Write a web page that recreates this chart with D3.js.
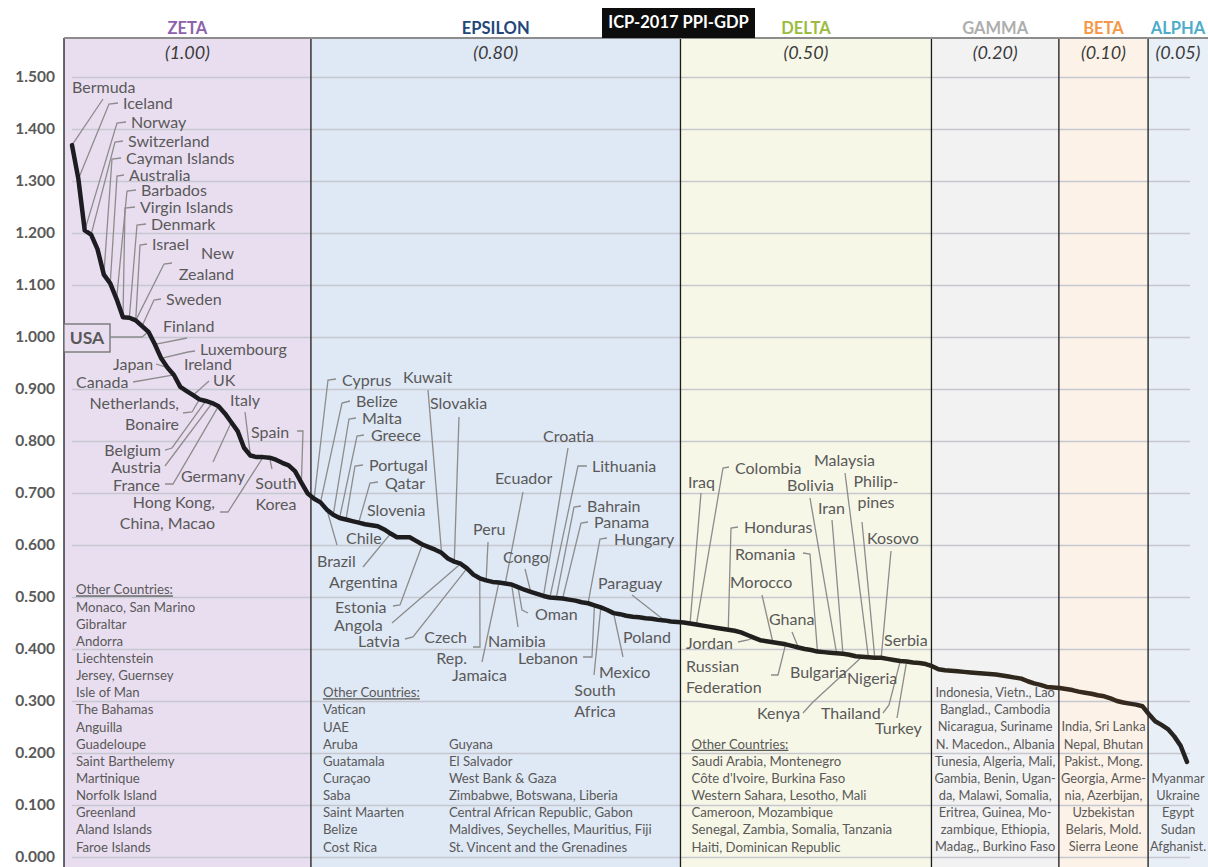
<!DOCTYPE html>
<html>
<head>
<meta charset="utf-8">
<script src="https://cdnjs.cloudflare.com/ajax/libs/d3/7.8.5/d3.min.js"></script>
<style>
  html, body { margin: 0; padding: 0; background: #fff; }
  svg { display: block; font-family: Lato, "Open Sans", sans-serif; }
</style>
</head>
<body>
<svg id="chart" width="1208" height="867"></svg>
<script>
// PPI/GDP ratio by country, ranked high to low
const ppiValues = [
  1.369, 1.304, 1.205, 1.197, 1.169, 1.120, 1.103, 1.073, 1.038, 1.037,
  1.032, 1.021, 1.010, 0.986, 0.959, 0.941, 0.927, 0.904, 0.896, 0.888,
  0.880, 0.877, 0.873, 0.867, 0.853, 0.836, 0.819, 0.787, 0.772, 0.769,
  0.769, 0.768, 0.764, 0.758, 0.753, 0.742, 0.720, 0.699, 0.689, 0.682,
  0.668, 0.658, 0.652, 0.649, 0.646, 0.643, 0.640, 0.638, 0.636, 0.630,
  0.622, 0.615, 0.615, 0.615, 0.608, 0.601, 0.596, 0.591, 0.585, 0.574,
  0.568, 0.564, 0.555, 0.543, 0.536, 0.532, 0.529, 0.528, 0.526, 0.524,
  0.519, 0.514, 0.510, 0.506, 0.502, 0.499, 0.498, 0.497, 0.495, 0.493,
  0.490, 0.488, 0.484, 0.480, 0.475, 0.469, 0.467, 0.464, 0.462, 0.461,
  0.459, 0.458, 0.456, 0.455, 0.453, 0.452, 0.451, 0.449, 0.447, 0.445,
  0.443, 0.441, 0.439, 0.437, 0.435, 0.432, 0.427, 0.422, 0.417, 0.415,
  0.413, 0.411, 0.409, 0.406, 0.403, 0.400, 0.398, 0.395, 0.394, 0.393,
  0.392, 0.391, 0.389, 0.386, 0.385, 0.384, 0.383, 0.383, 0.381, 0.379,
  0.377, 0.376, 0.374, 0.373, 0.371, 0.367, 0.361, 0.359, 0.358, 0.357,
  0.356, 0.355, 0.354, 0.353, 0.352, 0.351, 0.349, 0.347, 0.345, 0.343,
  0.338, 0.334, 0.331, 0.327, 0.326, 0.325, 0.323, 0.321, 0.318, 0.316,
  0.314, 0.311, 0.309, 0.305, 0.300, 0.297, 0.295, 0.293, 0.290, 0.275,
  0.261, 0.254, 0.246, 0.232, 0.214, 0.183
];

const bandNames = ["ZETA", "EPSILON", "DELTA", "GAMMA", "BETA", "ALPHA"];
const bandWeights = ["(1.00)", "(0.80)", "(0.50)", "(0.20)", "(0.10)", "(0.05)"];
const bandLastRank = [37, 95, 134, 154, 168, 175];

const yTicks = [0, 0.1, 0.2, 0.3, 0.4, 0.5, 0.6, 0.7, 0.8, 0.9, 1.0, 1.1, 1.2, 1.3, 1.4, 1.5];

// "Other Countries" lists, bottom aligned in each band
const zetaOthers = ["Monaco, San Marino", "Gibraltar", "Andorra", "Liechtenstein", "Jersey, Guernsey",
  "Isle of Man", "The Bahamas", "Anguilla", "Guadeloupe", "Saint Barthelemy", "Martinique",
  "Norfolk Island", "Greenland", "Aland Islands", "Faroe Islands"];
const epsilonOthers = ["Vatican", "UAE", "Aruba", "Guatamala", "Curaçao", "Saba", "Saint Maarten", "Belize", "Cost Rica"];
const epsilonOthers2 = ["Guyana", "El Salvador", "West Bank & Gaza", "Zimbabwe, Botswana, Liberia",
  "Central African Republic, Gabon", "Maldives, Seychelles, Mauritius, Fiji", "St. Vincent and the Grenadines"];
const deltaOthers = ["Saudi Arabia, Montenegro", "Côte d'Ivoire, Burkina Faso", "Western Sahara, Lesotho, Mali",
  "Cameroon, Mozambique", "Senegal, Zambia, Somalia, Tanzania", "Haiti, Dominican Republic"];
const gammaOthers = ["Indonesia, Vietn., Lao", "Banglad., Cambodia", "Nicaragua, Suriname", "N. Macedon., Albania",
  "Tunesia, Algeria, Mali,", "Gambia, Benin, Ugan-", "da, Malawi, Somalia,", "Eritrea, Guinea, Mo-",
  "zambique, Ethiopia,", "Madag., Burkino Faso"];
const betaOthers = ["India, Sri Lanka", "Nepal, Bhutan", "Pakist., Mong.", "Georgia, Arme-", "nia, Azerbijan,",
  "Uzbekistan", "Belaris, Mold.", "Sierra Leone"];
const alphaOthers = ["Myanmar", "Ukraine", "Egypt", "Sudan", "Afghanist."];

// named countries on the curve: rank + label placement (hook = leader points before the curve)
const callouts = [
  {lines: ["Bermuda"], rank: 0, x: 72, y: 87, hook: [[103, 99]]},
  {lines: ["Iceland"], rank: 1, x: 123, y: 103, hook: [[118, 103], [109, 104]]},
  {lines: ["Norway"], rank: 2, x: 131, y: 122, hook: [[126, 122], [117, 123]]},
  {lines: ["Switzerland"], rank: 3, x: 128, y: 141, hook: [[123, 141], [115, 142]]},
  {lines: ["Cayman Islands"], rank: 5, x: 126, y: 158, hook: [[121, 158], [112, 159]]},
  {lines: ["Australia"], rank: 6, x: 129, y: 175, hook: [[124, 175], [117, 176]]},
  {lines: ["Barbados"], rank: 7, x: 141, y: 190, hook: [[136, 190], [127, 191]]},
  {lines: ["Virgin Islands"], rank: 8, x: 140, y: 207, hook: [[135, 207], [125, 208]]},
  {lines: ["Denmark"], rank: 9, x: 151, y: 224, hook: [[146, 224], [137, 225]]},
  {lines: ["Israel"], rank: 10, x: 152, y: 244, hook: [[147, 244], [140, 245]]},
  {lines: ["New", "Zealand"], rank: 10, x: 234, y: 253, anchor: "end", hook: [[172, 263], [164, 264]]},
  {lines: ["Sweden"], rank: 11, x: 166, y: 299, hook: [[161, 299], [154, 300]]},
  {lines: ["Finland"], rank: 13, x: 163, y: 326, hook: [[187, 338]]},
  {lines: ["Luxembourg"], rank: 14, x: 200, y: 349, hook: [[195, 351], [188, 352]]},
  {lines: ["Japan"], rank: 15, x: 113, y: 364, hook: [[156, 364]]},
  {lines: ["Ireland"], x: 184, y: 364},
  {lines: ["Canada"], rank: 16, x: 76, y: 382, hook: [[133, 382]]},
  {lines: ["UK"], rank: 19, x: 213, y: 380, hook: [[209, 381]]},
  {lines: ["Netherlands,", "Bonaire"], rank: 20, x: 179, y: 403, anchor: "end", hook: [[183, 413], [192, 412]]},
  {lines: ["Belgium"], rank: 21, x: 161, y: 450, anchor: "end", hook: [[165, 450], [172, 448]]},
  {lines: ["Austria"], rank: 22, x: 161, y: 467, anchor: "end", hook: [[165, 466]]},
  {lines: ["France"], rank: 23, x: 160, y: 485, anchor: "end", hook: [[165, 484], [173, 484]]},
  {lines: ["Germany"], rank: 25, x: 181, y: 476, hook: [[213, 462]]},
  {lines: ["Italy"], rank: 28, x: 230, y: 400, hook: [[245, 412]]},
  {lines: ["Spain"], rank: 36, x: 251, y: 432, hook: [[297, 431], [303, 431]]},
  {lines: ["South", "Korea"], rank: 31, x: 276, y: 483, anchor: "middle", hook: [[272, 469]]},
  {lines: ["Hong Kong,", "China, Macao"], rank: 30, x: 215, y: 502, anchor: "end", hook: [[220, 512], [228, 512]]},

  {lines: ["Cyprus"], rank: 38, x: 342, y: 380, hook: [[336, 379], [328, 380]]},
  {lines: ["Belize"], rank: 39, x: 356, y: 401, hook: [[350, 401], [342, 403]]},
  {lines: ["Malta"], rank: 41, x: 362, y: 418, hook: [[356, 418], [349, 419]]},
  {lines: ["Greece"], rank: 42, x: 371, y: 435, hook: [[364, 435], [357, 436]]},
  {lines: ["Portugal"], rank: 43, x: 369, y: 465, hook: [[363, 465], [355, 466]]},
  {lines: ["Qatar"], rank: 45, x: 385, y: 483, hook: [[378, 482], [370, 483]]},
  {lines: ["Slovenia"], x: 367, y: 510},
  {lines: ["Chile"], x: 346, y: 538},
  {lines: ["Brazil"], rank: 40, x: 317, y: 561, hook: [[337, 545]]},
  {lines: ["Argentina"], rank: 50, x: 329, y: 582, hook: [[363, 567]]},
  {lines: ["Kuwait"], rank: 58, x: 403, y: 377, hook: [[428, 390]]},
  {lines: ["Slovakia"], rank: 60, x: 430, y: 403, hook: [[459, 417]]},
  {lines: ["Estonia"], rank: 55, x: 335, y: 607, hook: [[393, 606], [400, 605]]},
  {lines: ["Angola"], rank: 61, x: 334, y: 625, hook: [[392, 623]]},
  {lines: ["Latvia"], rank: 62, x: 358, y: 641, hook: [[405, 639], [413, 637]]},
  {lines: ["Czech", "Rep."], rank: 64, x: 467, y: 637, anchor: "end", hook: [[473, 647], [480, 647]]},
  {lines: ["Peru"], rank: 65, x: 473, y: 529, hook: [[488, 542]]},
  {lines: ["Ecuador"], rank: 68, x: 495, y: 478, hook: [[523, 492]]},
  {lines: ["Jamaica"], rank: 67, x: 452, y: 675, hook: [[482, 662]]},
  {lines: ["Congo"], rank: 72, x: 503, y: 557, hook: [[525, 569]]},
  {lines: ["Namibia"], rank: 69, x: 488, y: 641, hook: [[518, 627]]},
  {lines: ["Oman"], rank: 70, x: 535, y: 614, hook: [[528, 613], [522, 610]]},
  {lines: ["Croatia"], rank: 74, x: 543, y: 436, hook: [[568, 448]]},
  {lines: ["Lithuania"], rank: 75, x: 592, y: 466, hook: [[587, 466], [578, 466]]},
  {lines: ["Bahrain"], rank: 76, x: 587, y: 506, hook: [[581, 506], [574, 507]]},
  {lines: ["Panama"], rank: 77, x: 594, y: 522, hook: [[588, 522], [581, 523]]},
  {lines: ["Hungary"], rank: 81, x: 614, y: 539, hook: [[607, 538], [600, 539]]},
  {lines: ["Lebanon"], rank: 82, x: 518, y: 658, hook: [[583, 657], [592, 657]]},
  {lines: ["South", "Africa"], rank: 83, x: 595, y: 690, anchor: "middle", hook: [[594, 675]]},
  {lines: ["Mexico"], rank: 85, x: 599, y: 672, hook: [[623, 657]]},
  {lines: ["Poland"], x: 623, y: 637},
  {lines: ["Paraguay"], rank: 93, x: 598, y: 583, hook: [[632, 595]]},

  {lines: ["Iraq"], rank: 97, x: 688, y: 482, hook: [[701, 493]]},
  {lines: ["Colombia"], rank: 98, x: 735, y: 468, hook: [[729, 467], [723, 468]]},
  {lines: ["Honduras"], rank: 103, x: 744, y: 527, hook: [[738, 527], [731, 528]]},
  {lines: ["Romania"], rank: 117, x: 735, y: 554, hook: [[803, 553], [810, 554]]},
  {lines: ["Morocco"], rank: 110, x: 730, y: 582, hook: [[762, 595]]},
  {lines: ["Ghana"], rank: 114, x: 769, y: 619, hook: [[792, 632]]},
  {lines: ["Jordan"], rank: 107, x: 686, y: 643, hook: [[738, 642], [748, 640]]},
  {lines: ["Russian", "Federation"], rank: 112, x: 686, y: 666, hook: [[771, 675], [778, 675]]},
  {lines: ["Bulgaria"], x: 790, y: 672},
  {lines: ["Nigeria"], x: 847, y: 678},
  {lines: ["Malaysia"], rank: 125, x: 814, y: 460, hook: [[845, 473]]},
  {lines: ["Bolivia"], rank: 120, x: 787, y: 485, hook: [[810, 498]]},
  {lines: ["Iran"], rank: 121, x: 818, y: 508, hook: [[832, 520]]},
  {lines: ["Philip-", "pines"], rank: 126, x: 876, y: 481, anchor: "middle", hook: [[862, 522]]},
  {lines: ["Kosovo"], rank: 127, x: 867, y: 538, hook: [[891, 551]]},
  {lines: ["Serbia"], x: 884, y: 640},
  {lines: ["Kenya"], rank: 124, x: 757, y: 713, hook: [[803, 713], [812, 703]]},
  {lines: ["Thailand"], rank: 130, x: 821, y: 713, hook: [[883, 713], [889, 705]]},
  {lines: ["Turkey"], rank: 131, x: 875, y: 728, hook: [[897, 718]]}
];

// styles
const bandFill = ["#e9def0", "#dfe8f5", "#f7f7e7", "#f2f2f3", "#fdf2e7", "#e9eff7"];
const bandInk = ["#8e62ae", "#23477a", "#9cbb3f", "#aeaeae", "#f79646", "#4eaccb"];
const labelInk = "#595959";

const svg = d3.select("#chart");
const width = 1208, height = 867;

const x = d3.scaleLinear().domain([0, ppiValues.length - 1]).range([72, 1187]);
const y = d3.scaleLinear().domain([0, 1.5]).range([857, 77]);

const panelTop = 38;
const edges = [64, ...bandLastRank.slice(0, -1).map(r => x(r + 0.5) + (r > 100 ? 2.5 : 0)), width];

// band backgrounds
svg.append("g").selectAll("rect")
  .data(bandNames)
  .join("rect")
    .attr("x", (d, i) => edges[i])
    .attr("y", panelTop)
    .attr("width", (d, i) => edges[i + 1] - edges[i])
    .attr("height", height - panelTop)
    .attr("fill", (d, i) => bandFill[i]);

// gridlines + tick labels
const yAxis = d3.axisLeft(y)
  .tickValues(yTicks)
  .tickFormat(d3.format(".3f"))
  .tickSizeInner(-(1190 - 72))
  .tickSizeOuter(0)
  .tickPadding(17);

const axisG = svg.append("g")
  .attr("transform", "translate(72,0)")
  .call(yAxis);
axisG.select(".domain").remove();
axisG.selectAll(".tick line")
  .attr("stroke", "#c5c8ce")
  .attr("stroke-width", 1.6);
axisG.selectAll(".tick text")
  .attr("fill", labelInk)
  .attr("font-family", "Lato, sans-serif")
  .attr("font-size", 15.5)
  .attr("font-weight", "bold");

// band separators and top rule
svg.append("g").selectAll("line")
  .data(edges.slice(0, -1))
  .join("line")
    .attr("x1", d => d).attr("x2", d => d)
    .attr("y1", panelTop).attr("y2", height)
    .attr("stroke", "#1a1a1a")
    .attr("stroke-width", 1.3);

svg.append("line")
  .attr("x1", 64).attr("x2", width)
  .attr("y1", panelTop).attr("y2", panelTop)
  .attr("stroke", "#8c8c8c")
  .attr("stroke-width", 2);

// band headers
const centers = bandNames.map((d, i) => (edges[i] + edges[i + 1]) / 2);

svg.append("g").selectAll("text")
  .data(bandNames)
  .join("text")
    .attr("x", (d, i) => centers[i])
    .attr("y", 28)
    .attr("dy", "0.35em")
    .attr("text-anchor", "middle")
    .attr("font-size", 16.5)
    .attr("font-weight", "bold")
    .attr("fill", (d, i) => bandInk[i])
    .text(d => d);

svg.append("g").selectAll("text")
  .data(bandWeights)
  .join("text")
    .attr("x", (d, i) => centers[i])
    .attr("y", 53)
    .attr("dy", "0.35em")
    .attr("text-anchor", "middle")
    .attr("font-size", 18)
    .attr("font-style", "italic")
    .attr("fill", "#3a3a3a")
    .text(d => d);

// title box
svg.append("rect")
  .attr("x", 602).attr("y", 8)
  .attr("width", 153).attr("height", 30)
  .attr("fill", "#0d0d0d");
svg.append("text")
  .attr("x", 678.5).attr("y", 22)
  .attr("dy", "0.35em")
  .attr("text-anchor", "middle")
  .attr("font-size", 16.5)
  .attr("font-weight", "bold")
  .attr("fill", "#fff")
  .text("ICP-2017 PPI-GDP");

// leader lines
const leaderLine = d3.line();
svg.append("g")
  .attr("fill", "none")
  .attr("stroke", "#8c8c8c")
  .attr("stroke-width", 1.3)
  .selectAll("path")
  .data(callouts.filter(c => c.rank !== undefined))
  .join("path")
    .attr("d", c => leaderLine([...c.hook, [x(c.rank), y(ppiValues[c.rank])]]));

// USA reference box
const usaRank = 12;
svg.append("path")
  .attr("d", leaderLine([[111, 337], [142, 337], [x(usaRank), y(ppiValues[usaRank])]]))
  .attr("fill", "none")
  .attr("stroke", "#8c8c8c")
  .attr("stroke-width", 1.3);
svg.append("rect")
  .attr("x", 64).attr("y", 324)
  .attr("width", 46).attr("height", 28)
  .attr("fill", "#e9def0")
  .attr("stroke", "#6f6f6f")
  .attr("stroke-width", 1.3);
svg.append("text")
  .attr("x", 87).attr("y", 338)
  .attr("dy", "0.35em")
  .attr("text-anchor", "middle")
  .attr("font-size", 17.5)
  .attr("font-weight", "bold")
  .attr("fill", labelInk)
  .text("USA");

// curve ink drifts slightly brown towards the low end, as in the original
const grad = svg.append("defs").append("linearGradient")
  .attr("id", "curveInk")
  .attr("gradientUnits", "userSpaceOnUse")
  .attr("x1", x(0)).attr("x2", x(ppiValues.length - 1))
  .attr("y1", 0).attr("y2", 0);
grad.append("stop").attr("offset", 0).attr("stop-color", "#1c1c22");
grad.append("stop").attr("offset", 0.55).attr("stop-color", "#1e1e1e");
grad.append("stop").attr("offset", 0.8).attr("stop-color", "#2c261c");
grad.append("stop").attr("offset", 0.93).attr("stop-color", "#3a2a1e");
grad.append("stop").attr("offset", 1).attr("stop-color", "#222");

// the ranked curve
svg.append("path")
  .datum(ppiValues)
  .attr("fill", "none")
  .attr("stroke", "url(#curveInk)")
  .attr("stroke-width", 4.5)
  .attr("stroke-linejoin", "round")
  .attr("stroke-linecap", "round")
  .attr("d", d3.line().x((d, i) => x(i)).y(d => y(d)));

// country labels
const labelG = svg.append("g")
  .attr("font-size", 16)
  .attr("fill", labelInk);

callouts.forEach(c => {
  const t = labelG.append("text")
    .attr("text-anchor", c.anchor || "start");
  c.lines.forEach((ln, k) => {
    t.append("tspan")
      .attr("x", c.x)
      .attr("y", c.y + k * 21)
      .attr("dy", "0.35em")
      .text(ln);
  });
});

// other-country lists
const rowY = k => 847 - k * 17.15;

function otherList(items, xPos, anchor, header, size) {
  const g = svg.append("g")
    .attr("font-size", size || 13.2)
    .attr("fill", labelInk)
    .attr("text-anchor", anchor);
  if (header) {
    g.append("text")
      .attr("x", xPos).attr("y", rowY(items.length))
      .attr("dy", "0.35em")
      .attr("text-decoration", "underline")
      .text("Other Countries:");
  }
  g.selectAll("text.item")
    .data(items)
    .join("text")
      .attr("class", "item")
      .attr("x", xPos)
      .attr("y", (d, i) => rowY(items.length - 1 - i))
      .attr("dy", "0.35em")
      .text(d => d);
}

otherList(zetaOthers, edges[0] + 12, "start", true);
otherList(epsilonOthers, edges[1] + 12, "start", true);
otherList(epsilonOthers2, edges[1] + 138, "start", false);
otherList(deltaOthers, edges[2] + 11, "start", true);
otherList(gammaOthers, centers[3], "middle", false, 12.8);
otherList(betaOthers, centers[4], "middle", false, 12.8);
otherList(alphaOthers, centers[5], "middle", false, 12.8);
</script>
</body>
</html>
